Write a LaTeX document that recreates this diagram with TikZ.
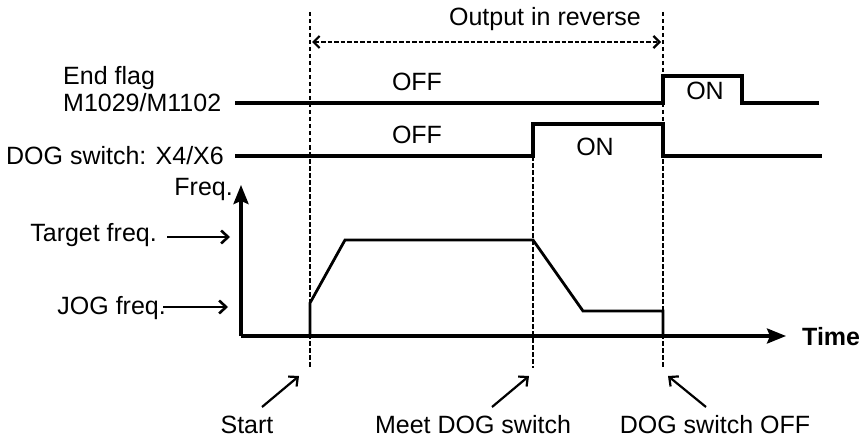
\documentclass[tikz,border=0pt]{standalone}
\usepackage{fontspec}
\setmainfont{Liberation Sans}
\usetikzlibrary{arrows.meta}
\begin{document}
\begin{tikzpicture}[x=1pt,y=-1pt,
  lbl/.style={font=\fontsize{25}{27}\selectfont, inner sep=0pt},
  sig/.style={line width=3.3pt, line join=miter},
  curve/.style={line width=2.8pt},
  guide/.style={line width=2.6pt, dash pattern=on 4.5pt off 2.5pt},
  pointer/.style={line width=2.2pt, -{Straight Barb[length=7pt,width=13pt,line width=2.2pt]}},
  hpointer/.style={line width=2.8pt, -{Straight Barb[length=7pt,width=13pt,line width=2.6pt]}},
  axis/.style={line width=3.4pt, -{Stealth[length=19pt,width=15pt,inset=3pt]}},
]
\useasboundingbox (0,0) rectangle (859,441);

% guide lines
\coordinate (s1) at (310,12);  \coordinate (s2) at (310,368);
\coordinate (m1) at (533,156); \coordinate (m2) at (533,368);
\coordinate (o1) at (663,12);  \coordinate (o2) at (663,368);
\draw[guide] (s1) -- (s2);
\draw[guide] (m1) -- (m2);
\draw[guide] (o1) -- (o2);

% output in reverse
\coordinate (ra) at (312,42); \coordinate (rb) at (661,42);
\draw[line width=2.2pt, dash pattern=on 4.5pt off 2pt,
  {Straight Barb[length=6pt,width=12pt,line width=2.2pt]}-{Straight Barb[length=6pt,width=12pt,line width=2.2pt]}] (ra) -- (rb);
\node[lbl] (rev) at (545,19) {Output in reverse};

% end flag signal
\node[lbl, anchor=west] (ef1) at (63,78) {End flag};
\node[lbl, anchor=west] (ef2) at (63,103) {M1029/M1102};
\coordinate (e0) at (235,103); \coordinate (e1) at (663,103);
\coordinate (e2) at (663,76);  \coordinate (e3) at (742,76);
\coordinate (e4) at (742,103); \coordinate (e5) at (819,103);
\draw[sig] (e0) -- (e1) -- (e2) -- (e3) -- (e4) -- (e5);
\node[lbl] (eoff) at (417,82) {OFF};
\node[lbl] (eon) at (705,91) {ON};

% DOG switch signal
\node[lbl, anchor=east] (dog) at (224,156) {DOG switch: X4/X6};
\coordinate (d0) at (235,156); \coordinate (d1) at (533,156);
\coordinate (d2) at (533,124); \coordinate (d3) at (663,124);
\coordinate (d4) at (663,156); \coordinate (d5) at (822,156);
\draw[sig] (d0) -- (d1) -- (d2) -- (d3) -- (d4) -- (d5);
\node[lbl] (doff) at (417,135) {OFF};
\node[lbl] (don) at (595,147) {ON};

% axes
\coordinate (org) at (241,336);
\coordinate (fy) at (241,185);
\coordinate (tx) at (786,336);
\draw[axis] (org) -- (fy);
\draw[axis] (org) -- (tx);
\node[lbl, anchor=east] (freq) at (233,189) {Freq.};
\node[lbl, anchor=west] (time) at (802,337) {\bfseries Time};

% frequency curve
\coordinate (c0) at (310,336); \coordinate (c1) at (310,303);
\coordinate (c2) at (345,240); \coordinate (c3) at (533,240);
\coordinate (c4) at (583,311); \coordinate (c5) at (663,311);
\coordinate (c6) at (663,336);
\draw[curve] (c0) -- (c1) -- (c2) -- (c3) -- (c4) -- (c5) -- (c6);

% level labels
\node[lbl, anchor=east] (tf) at (157,235) {Target freq.};
\coordinate (tfa) at (167,237); \coordinate (tfb) at (230,237);
\draw[hpointer] (tfa) -- (tfb);
\node[lbl, anchor=east] (jf) at (166,308) {JOG freq.};
\coordinate (jfa) at (163,307); \coordinate (jfb) at (228,307);
\draw[hpointer] (jfa) -- (jfb);

% bottom labels
\node[lbl] (start) at (247,425) {Start};
\node[lbl] (meet) at (473,425) {Meet DOG switch};
\node[lbl] (dogoff) at (715,425) {DOG switch OFF};
\coordinate (a1) at (262,407); \coordinate (a2) at (299,376);
\coordinate (b1) at (492,407); \coordinate (b2) at (529,376);
\coordinate (g1) at (706,407); \coordinate (g2) at (668,376);
\draw[pointer] (a1) -- (a2);
\draw[pointer] (b1) -- (b2);
\draw[pointer] (g1) -- (g2);
\end{tikzpicture}
\end{document}
